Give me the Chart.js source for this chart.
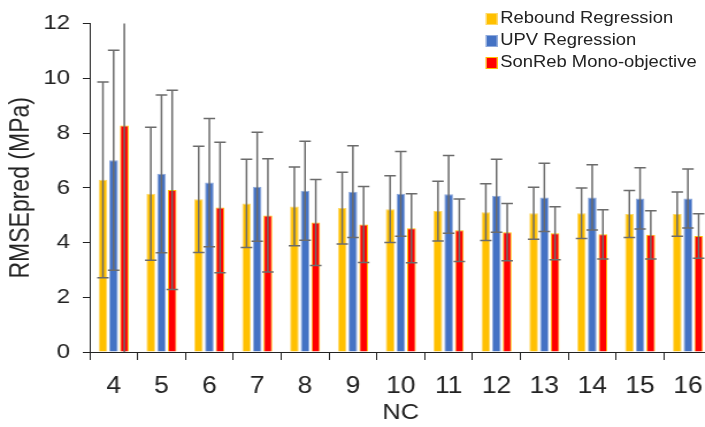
<!DOCTYPE html>
<html>
<head>
<meta charset="utf-8">
<script src="https://cdn.jsdelivr.net/npm/chart.js@4.4.1/dist/chart.umd.min.js"></script>
<style>
  html, body { margin: 0; padding: 0; background: #fff; overflow: hidden; }
  #wrap {
    position: relative;
    width: 640px;
    height: 427px;
    transform: scaleX(1.15);
    transform-origin: 0 0;
  }
  #legend {
    position: absolute;
    left: 423px;
    top: 7px;
    font-family: "Liberation Sans", Arial, sans-serif;
    font-size: 16px;
    color: #222;
  }
  #legend div { height: 22px; line-height: 22px; white-space: nowrap; }
  #legend span.box {
    display: inline-block;
    width: 9px;
    height: 10px;
    margin-right: 3px;
    vertical-align: -1px;
  }
</style>
</head>
<body>
<div id="wrap">
  <canvas id="chart" width="640" height="427"></canvas>
  <div id="legend"></div>
</div>
<script>
const categories = ["4", "5", "6", "7", "8", "9", "10", "11", "12", "13", "14", "15", "16"];

const rebound = [6.29, 5.78, 5.58, 5.43, 5.32, 5.26, 5.22, 5.15, 5.11, 5.07, 5.07, 5.04, 5.04];
const upv = [7.01, 6.51, 6.19, 6.04, 5.89, 5.86, 5.78, 5.76, 5.71, 5.65, 5.65, 5.61, 5.61];
const sonreb = [8.28, 5.92, 5.28, 4.99, 4.73, 4.66, 4.52, 4.45, 4.38, 4.34, 4.30, 4.28, 4.24];

// standard deviations shown as error bars
const reboundErr = [3.58, 2.43, 1.94, 1.61, 1.44, 1.31, 1.22, 1.09, 1.04, 0.95, 0.92, 0.86, 0.81];
const upvErr = [4.02, 2.88, 2.34, 1.99, 1.81, 1.68, 1.55, 1.42, 1.33, 1.25, 1.19, 1.12, 1.08];
const sonrebErr = [8.4, 3.64, 2.38, 2.07, 1.57, 1.39, 1.26, 1.14, 1.05, 0.97, 0.90, 0.88, 0.81];

const yTicks = [0, 2, 4, 6, 8, 10, 12];

const FONT = "'Liberation Sans', Arial, sans-serif";

// draws the error bars on top of every bar
const errorBars = {
  id: "errorBars",
  afterDatasetsDraw(chart) {
    const ctx = chart.ctx;
    const area = chart.chartArea;
    const yScale = chart.scales.y;
    ctx.save();
    ctx.beginPath();
    ctx.rect(area.left, area.top - 1, area.right - area.left, area.bottom - area.top + 1);
    ctx.clip();
    ctx.strokeStyle = "#6b6b6b";
    ctx.lineWidth = 1.5;
    chart.data.datasets.forEach((ds, i) => {
      const meta = chart.getDatasetMeta(i);
      meta.data.forEach((bar, j) => {
        const v = ds.data[j];
        const e = ds.errors[j];
        const hi = v + e;
        const lo = v - e;
        const yHi = yScale.getPixelForValue(Math.min(hi, yScale.max));
        const yLo = yScale.getPixelForValue(Math.max(lo, yScale.min));
        const x = bar.x;
        ctx.beginPath();
        ctx.moveTo(x, yHi);
        ctx.lineTo(x, yLo);
        if (hi <= yScale.max) {
          ctx.moveTo(x - 5, yHi);
          ctx.lineTo(x + 5, yHi);
        }
        if (lo >= yScale.min) {
          ctx.moveTo(x - 5, yLo);
          ctx.lineTo(x + 5, yLo);
        }
        ctx.stroke();
      });
    });
    ctx.restore();
  },
};

const ctx = document.getElementById("chart").getContext("2d");
const chart = new Chart(ctx, {
  type: "bar",
  data: {
    labels: categories,
    datasets: [
      {
        label: "Rebound Regression",
        data: rebound,
        errors: reboundErr,
        backgroundColor: "#FFC000",
        borderColor: "#FFD966",
        borderWidth: 1,
      },
      {
        label: "UPV Regression",
        data: upv,
        errors: upvErr,
        backgroundColor: "#4472C4",
        borderColor: "#8FAADC",
        borderWidth: 1,
      },
      {
        label: "SonReb Mono-objective",
        data: sonreb,
        errors: sonrebErr,
        backgroundColor: "#FF0000",
        borderColor: "#FFC000",
        borderWidth: 1,
      },
    ],
  },
  options: {
    responsive: false,
    animation: false,
    devicePixelRatio: 1,
    categoryPercentage: 0.67,
    barPercentage: 0.82,
    layout: { padding: { left: 0, right: 21, top: 10, bottom: 0 } },
    plugins: {
      legend: { display: false },
      tooltip: { enabled: false },
    },
    scales: {
      x: {
        offset: true,
        grid: {
          offset: true,
          drawOnChartArea: false,
          drawTicks: true,
          tickLength: 8,
          color: "#222",
        },
        border: { color: "#222", width: 1 },
        ticks: {
          color: "#222",
          font: { family: FONT, size: 23 },
          padding: 13,
        },
        title: {
          display: true,
          text: "NC",
          color: "#222",
          font: { family: FONT, size: 22 },
          padding: { top: 0, bottom: 1 },
        },
        afterFit(scale) {
          scale.height = 75;
        },
      },
      y: {
        min: 0,
        max: 12,
        afterBuildTicks(scale) {
          scale.ticks = yTicks.map((v) => ({ value: v }));
        },
        grid: {
          drawOnChartArea: false,
          drawTicks: true,
          tickLength: 6,
          color: "#222",
        },
        border: { color: "#222", width: 1 },
        ticks: {
          color: "#222",
          font: { family: FONT, size: 21 },
          padding: 11,
        },
        title: {
          display: true,
          text: "RMSEpred (MPa)",
          color: "#222",
          font: { family: FONT, size: 23 },
          padding: { top: 5, bottom: 0 },
        },
        afterFit(scale) {
          scale.width = 78;
        },
      },
    },
  },
  plugins: [errorBars],
});

// legend in the top right corner
const legend = document.getElementById("legend");
chart.data.datasets.forEach((ds) => {
  const row = document.createElement("div");
  const box = document.createElement("span");
  box.className = "box";
  box.style.background = ds.backgroundColor;
  box.style.outline = "1px solid " + ds.borderColor;
  row.appendChild(box);
  row.appendChild(document.createTextNode(ds.label));
  legend.appendChild(row);
});
</script>
</body>
</html>
